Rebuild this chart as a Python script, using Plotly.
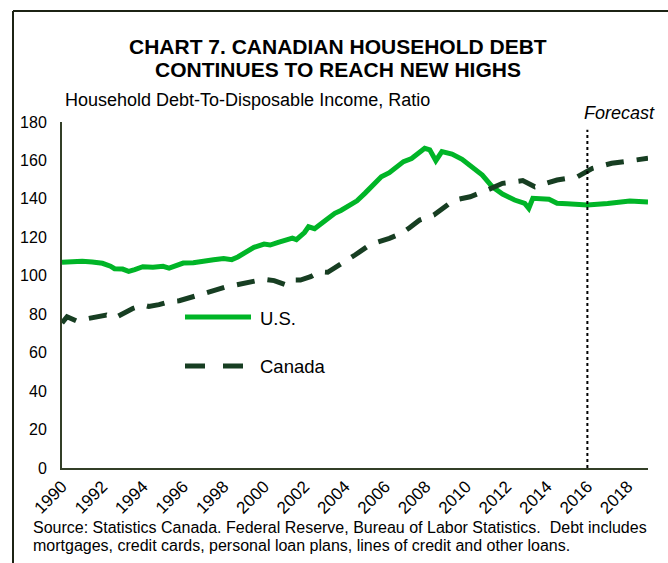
import plotly.graph_objects as go

# ---- data ----
us_years = [1990.0, 1990.5, 1991.0, 1991.5, 1992.0, 1992.4, 1992.6, 1993.0, 1993.3, 1993.6,
            1994.0, 1994.5, 1995.0, 1995.3, 1995.7, 1996.0, 1996.5, 1997.0, 1997.5, 1998.0,
            1998.4, 1998.7, 1999.0, 1999.5, 2000.0, 2000.3, 2000.7, 2001.0, 2001.4, 2001.6,
            2002.0, 2002.2, 2002.5, 2003.0, 2003.5, 2003.8, 2004.2, 2004.6, 2005.0, 2005.4,
            2005.8, 2006.2, 2006.6, 2006.9, 2007.3, 2007.6, 2007.95, 2008.2, 2008.5, 2008.8,
            2009.3, 2009.8, 2010.3, 2010.8, 2011.3, 2011.8, 2012.4, 2012.9, 2013.1, 2013.3,
            2014.1, 2014.5, 2015.0, 2016.0, 2017.0, 2018.1, 2019.0]
us_values = [107.0, 107.3, 107.5, 107.2, 106.5, 105.0, 103.7, 103.5, 102.3, 103.2,
             104.7, 104.5, 104.9, 104.0, 105.5, 106.6, 106.8, 107.8, 108.3, 109.0,
             108.4, 109.8, 111.5, 114.8, 116.5, 116.0, 117.4, 118.6, 119.6, 118.8,
             122.5, 125.5, 124.5, 128.5, 132.5, 134.0, 136.2, 139.0, 143.0, 147.5,
             151.5, 153.6, 156.5, 159.4, 161.0, 163.5, 166.3, 165.5, 159.9, 164.6,
             163.3, 160.6, 156.7, 152.4, 146.3, 142.5, 139.4, 137.7, 135.1, 140.3,
             139.8, 137.7, 137.5, 136.8, 137.6, 138.9, 138.4]

ca_years = [1990.0, 1990.25, 1990.7, 1991.2, 1991.7, 1992.2, 1992.6, 1993.0, 1993.5, 1994.0,
            1994.3, 1994.8, 1995.3, 1995.8, 1996.2, 1996.7, 1997.2, 1997.7, 1998.15, 1998.6,
            1999.1, 1999.6, 2000.0, 2000.5, 2001.1, 2001.4, 2001.8, 2002.3, 2002.75, 2003.15,
            2003.5, 2003.9, 2004.5, 2005.1, 2005.6, 2006.2, 2006.8, 2007.2, 2007.7, 2008.4,
            2008.9, 2009.4, 2010.2, 2010.6, 2011.05, 2011.8, 2012.3, 2012.8, 2013.4, 2014.0,
            2014.5, 2015.5, 2016.25, 2017.2, 2018.2, 2019.0]
ca_values = [75.4, 78.7, 76.6, 77.5, 78.7, 79.6, 78.0, 80.5, 83.0, 84.8,
             84.0, 85.0, 86.5, 87.0, 88.3, 89.5, 91.4, 92.5, 94.3, 95.2,
             96.1, 97.2, 98.2, 97.5, 95.2, 97.8, 97.8, 99.5, 102.1, 101.8,
             104.0, 106.5, 110.8, 115.1, 117.5, 119.5, 122.1, 125.0, 129.0, 131.6,
             135.5, 139.4, 141.1, 142.5, 144.6, 148.1, 148.8, 149.5, 146.3, 148.5,
             149.8, 151.5, 155.9, 158.5, 160.2, 161.1]

x_tick_values = list(range(1990, 2019, 2))
x_tick_labels = [str(y) for y in x_tick_values]
y_tick_values = list(range(0, 181, 20))
forecast_start = 2016

title_lines = ["CHART 7. CANADIAN HOUSEHOLD DEBT", "CONTINUES TO REACH NEW HIGHS"]
subtitle = "Household Debt-To-Disposable Income, Ratio"
source_lines = ["Source: Statistics Canada. Federal Reserve, Bureau of Labor Statistics.\u00a0 Debt includes",
                "mortgages, credit cards, personal loan plans, lines of credit and other loans."]

US_COLOR = "#00b527"
CA_COLOR = "#173e22"
AXIS_COLOR = "#333f27"
FONT = "Arial, Liberation Sans, sans-serif"

W, H = 668, 563
L, R, T, B = 62, 20, 122, 95
pw, ph = W - L - R, H - T - B


def px(xpix):
    return (xpix - L) / pw


def py(ypix):
    return (H - B - ypix) / ph


fig = go.Figure()
fig.add_trace(go.Scatter(x=us_years, y=us_values, mode="lines", name="U.S.",
                         line=dict(color=US_COLOR, width=5), showlegend=False))
fig.add_trace(go.Scatter(x=ca_years, y=ca_values, mode="lines", name="Canada",
                         line=dict(color=CA_COLOR, width=5, dash="18px,13px"), showlegend=False))

shapes = [
    # forecast divider
    dict(type="line", xref="x", yref="y", x0=forecast_start, x1=forecast_start, y0=0, y1=176,
         line=dict(color="black", width=2, dash="dot")),
    # outer frame (top and left)
    dict(type="line", xref="paper", yref="paper", x0=px(13), x1=px(W + 5), y0=py(11), y1=py(11),
         line=dict(color="#1c2314", width=2)),
    dict(type="line", xref="paper", yref="paper", x0=px(13), x1=px(13), y0=py(11), y1=py(H + 5),
         line=dict(color="#1c2314", width=2)),
    # legend samples
    dict(type="line", xref="paper", yref="paper", x0=px(185), x1=px(251), y0=py(317), y1=py(317),
         line=dict(color=US_COLOR, width=5)),
    dict(type="line", xref="paper", yref="paper", x0=px(185), x1=px(245), y0=py(366), y1=py(366),
         line=dict(color=CA_COLOR, width=5, dash="20px,18px")),
]

annotations = [
    dict(text="<b>%s</b>" % title_lines[0], xref="paper", yref="paper", x=px(338), y=py(47),
         xanchor="center", yanchor="middle", showarrow=False, font=dict(size=21, color="black", family=FONT)),
    dict(text="<b>%s</b>" % title_lines[1], xref="paper", yref="paper", x=px(338), y=py(70),
         xanchor="center", yanchor="middle", showarrow=False, font=dict(size=21, color="black", family=FONT)),
    dict(text=subtitle, xref="paper", yref="paper", x=px(63), y=py(100),
         xanchor="left", yanchor="middle", showarrow=False, font=dict(size=18, color="black", family=FONT)),
    dict(text="Forecast", xref="paper", yref="paper", x=px(619), y=py(113),
         xanchor="center", yanchor="middle", showarrow=False,
         font=dict(size=18, color="black", family=FONT, style="italic")),
    dict(text="U.S.", xref="paper", yref="paper", x=px(258), y=py(318),
         xanchor="left", yanchor="middle", showarrow=False, font=dict(size=18.5, color="black", family=FONT)),
    dict(text="Canada", xref="paper", yref="paper", x=px(258), y=py(366),
         xanchor="left", yanchor="middle", showarrow=False, font=dict(size=18.5, color="black", family=FONT)),
    dict(text=source_lines[0], xref="paper", yref="paper", x=px(31), y=py(527),
         xanchor="left", yanchor="middle", showarrow=False, font=dict(size=16, color="black", family=FONT)),
    dict(text=source_lines[1], xref="paper", yref="paper", x=px(31), y=py(545),
         xanchor="left", yanchor="middle", showarrow=False, font=dict(size=16, color="black", family=FONT)),
]

fig.update_layout(
    width=W, height=H,
    margin=dict(l=L, r=R, t=T, b=B, pad=0),
    paper_bgcolor="white", plot_bgcolor="white",
    font=dict(family=FONT, color="black"),
    shapes=shapes, annotations=annotations,
    xaxis=dict(range=[1990, 2019], tickmode="array", tickvals=x_tick_values, ticktext=x_tick_labels,
               tickangle=-45, showgrid=False, zeroline=False, showline=True, linecolor=AXIS_COLOR,
               linewidth=2, ticks="", tickfont=dict(size=17, color="black")),
    yaxis=dict(range=[0, 180], tickmode="array", tickvals=y_tick_values, showgrid=False, zeroline=False,
               showline=True, linecolor=AXIS_COLOR, linewidth=2, ticks="", ticklabelstandoff=10,
               tickfont=dict(size=16, color="black")),
)

fig.write_html("out.html", config={"displayModeBar": False},
               post_script="document.body.style.margin='0px';document.body.style.overflow='hidden';")
